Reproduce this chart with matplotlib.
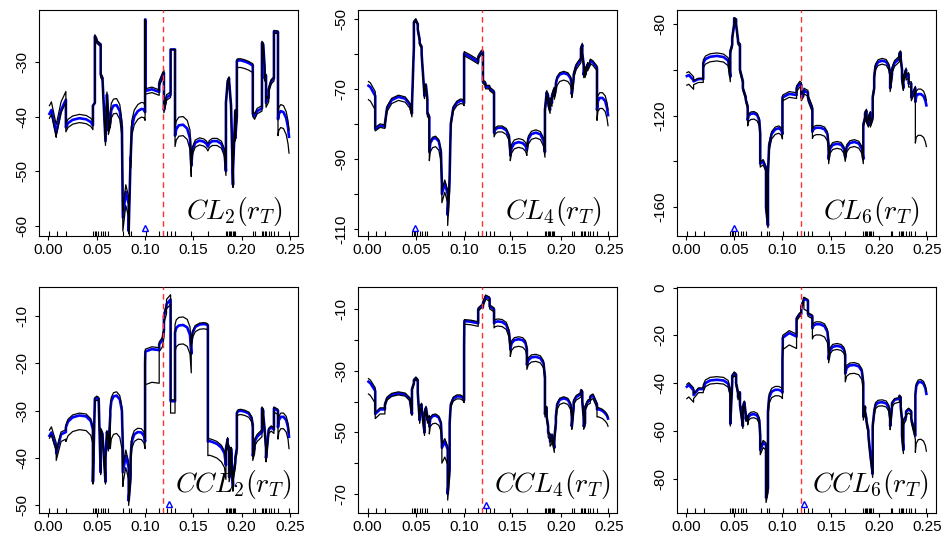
import numpy as np
import matplotlib.pyplot as plt

plt.rcParams['font.family'] = ['Liberation Sans', 'DejaVu Sans']
plt.rcParams['mathtext.fontset'] = 'cm'

# grid of r_T values, one list per piece between jump points
seg_r = [
    [0.001, 0.003, 0.008], [0.008, 0.013, 0.018],
    [0.018, 0.0202, 0.025, 0.032, 0.039, 0.0438, 0.046],
    [0.046, 0.048], [0.048, 0.050], [0.050, 0.052], [0.052, 0.054],
    [0.054, 0.056], [0.056, 0.059], [0.059, 0.0605, 0.062], [0.062, 0.064],
    [0.064, 0.065, 0.0673, 0.0705, 0.0738, 0.076, 0.077],
    [0.077, 0.080, 0.083], [0.083, 0.085],
    [0.085, 0.0862, 0.0888, 0.0925, 0.0962, 0.0988, 0.100], [0.100, 0.1003],
    [0.1003, 0.107, 0.1146], [0.1146, 0.118, 0.1195], [0.1195, 0.1222],
    [0.1222, 0.1264], [0.1264, 0.131],
    [0.131, 0.1323, 0.135, 0.1394, 0.1436, 0.1465, 0.1478],
    [0.1478, 0.1492, 0.152, 0.1564, 0.1607, 0.1636, 0.165],
    [0.165, 0.1665, 0.1697, 0.1744, 0.179, 0.1822, 0.1837],
    [0.1837, 0.1855], [0.1855, 0.187], [0.187, 0.189], [0.189, 0.191],
    [0.191, 0.1934], [0.1934, 0.195],
    [0.195, 0.1963, 0.199, 0.2032, 0.2074, 0.2102, 0.2115], [0.2115, 0.2134],
    [0.2134, 0.216, 0.221], [0.221, 0.2224], [0.2224, 0.2238],
    [0.2238, 0.2252], [0.2252, 0.228], [0.228, 0.2306], [0.2306, 0.2334],
    [0.2334, 0.2376], [0.2376, 0.2385, 0.2405, 0.2433, 0.2461, 0.248, 0.249],
]

rug_r = [0.001, 0.009, 0.0186, 0.046, 0.0477, 0.049, 0.051, 0.054, 0.0566,
         0.059, 0.062, 0.0773, 0.0836, 0.0856, 0.1008, 0.1146, 0.1222, 0.1264,
         0.131, 0.1478, 0.165, 0.1837, 0.1851, 0.1865, 0.1878, 0.1892, 0.1906,
         0.1920, 0.1934, 0.212, 0.2134, 0.221, 0.2224, 0.2238, 0.2251, 0.2279,
         0.2307, 0.2334, 0.2376, 0.249]
r_true = 0.119

# ---- CL2 ----
cl2_blue = [
    [-39.5, -38.8, -43.0], [-43.0, -38.8, -36.9],
    [-42.0, -41.2, -40.6, -40.3, -40.5, -41.0, -41.6],
    [-38.0, -37.5], [-25.3, -26.0], [-26.3, -26.5], [-26.6, -26.8],
    [-32.3, -33.0], [-33.5, -44.5], [-44.5, -36.0, -40.0], [-42.5, -41.0],
    [-40.5, -38.8, -38.0, -37.9, -39.0, -42.0, -58.5],
    [-58.5, -53.8, -56.0], [-61.0, -47.5],
    [-48.0, -42.0, -40.0, -39.0, -38.6, -38.7, -39.2], [-22.2, -22.2],
    [-35.3, -35.0, -35.5], [-34.0, -32.5, -32.0], [-38.8, -36.5],
    [-36.5, -36.0], [-27.7, -27.7],
    [-43.5, -42.3, -41.6, -41.5, -42.2, -44.0, -49.0],
    [-49.0, -46.0, -44.8, -44.4, -44.6, -45.0, -45.5],
    [-45.5, -44.9, -44.5, -44.5, -45.0, -46.5, -50.0],
    [-37.5, -33.5], [-33.5, -33.0], [-33.5, -38.0], [-38.0, -52.5],
    [-50.0, -39.0], [-44.0, -40.0],
    [-29.8, -29.7, -29.7, -29.9, -30.2, -30.5, -30.6], [-39.5, -40.0],
    [-40.0, -39.0, -38.5], [-26.5, -26.8], [-27.0, -31.0],
    [-33.0, -32.5], [-37.5, -36.5], [-35.0, -33.5], [-33.5, -33.0],
    [-24.4, -24.5], [-40.5, -39.5, -39.0, -39.2, -40.3, -42.0, -43.7],
]
cl2_up = [1.5, 1.5, 0.7, 0, 0.3, 0.2, 0.2, 0.3, 0.3, 0.5, 0.5, 1.2, 1.3, 0.5,
          1.2, 0, 0.4, 0.5, 0.5, 0.5, 0, 1.5, 0.5, 0.5, 0.3, 0.3, 0.3, 0.3,
          0.3, 0.3, 0.3, 0.5, 0.5, 0.3, 0.3, 0.3, 0.5, 0.3, 0.3, 0.2, 1.2]
cl2_dn = [0.8, 0.5, 0.8, 0, 0.3, 0.3, 0.3, 0.5, 0.5, 0.8, 0.8, 1.5, 2.5, 0.5,
          1.5, 0, 0.6, 0.5, 0.5, 0.5, 0, 2.0, 0.8, 0.8, 0.5, 0.5, 0.5, 0.5,
          0.5, 0.5, 1.3, 0.5, 0.5, 0.5, 0.5, 0.5, 0.8, 0.5, 0.5, 0.3, 3.0]

# ---- CL4 ----
cl4_blue = [
    [-69.1, -69.5, -72.0], [-81.5, -80.5, -80.8],
    [-80.0, -75.5, -73.2, -72.3, -72.8, -74.5, -77.0],
    [-75.0, -58.0], [-51.0, -50.3], [-50.5, -51.5], [-53.0, -56.0],
    [-57.0, -58.0], [-60.0, -72.0], [-70.0, -69.0, -73.0], [-77.0, -78.0],
    [-88.0, -85.5, -84.3, -84.0, -85.0, -88.0, -97.0],
    [-100.0, -97.0, -100.0], [-106.0, -96.0],
    [-95.0, -80.0, -75.5, -74.0, -73.4, -73.5, -74.0], [-60.0, -60.0],
    [-60.0, -61.0, -62.3], [-61.0, -59.5, -59.5], [-68.0, -68.5],
    [-69.5, -69.5], [-70.0, -71.0],
    [-82.5, -81.6, -81.1, -81.1, -81.8, -83.5, -88.0],
    [-89.0, -86.8, -85.6, -85.2, -85.5, -86.3, -87.5],
    [-87.0, -84.3, -82.9, -82.5, -83.0, -84.8, -88.0],
    [-76.0, -71.0], [-71.0, -72.0], [-74.0, -76.0], [-73.0, -74.0],
    [-72.0, -70.0], [-72.0, -70.0],
    [-68.5, -67.0, -65.9, -65.5, -65.9, -67.0, -69.0], [-71.5, -67.0],
    [-66.0, -63.5, -61.5], [-58.5, -57.5], [-60.0, -63.0],
    [-66.0, -64.0], [-66.0, -63.0], [-64.0, -62.5], [-62.0, -62.5],
    [-62.5, -64.0], [-76.0, -73.5, -72.6, -72.6, -73.5, -75.5, -77.5],
]
cl4_up = [1.2, 0.5, 0.5, 0, 0.3, 0.3, 0.3, 0.3, 0.5, 0.5, 0.5, 0.5, 1.0, 1.0,
          0.5, 0.5, 0.6, 0.5, 0.5, 0.5, 0.5, 0.5, 1.0, 0.8, 0.5, 0.5, 0.5, 0.5,
          0.5, 0.5, 0.5, 0.5, 0.5, 0.5, 0.5, 0.5, 0.5, 0.5, 0.5, 0.5, 1.5]
cl4_dn = [4.0, 0.5, 1.0, 0, 0.3, 0.3, 0.5, 0.5, 0.8, 0.8, 0.8, 2.5, 2.5, 3.0,
          0.8, 0.5, 0.6, 0.5, 0.5, 0.5, 0.5, 1.2, 1.5, 1.5, 1.0, 1.0, 1.0, 1.0,
          1.0, 1.0, 2.0, 1.0, 1.0, 0.8, 0.8, 0.8, 0.8, 0.8, 0.8, 0.8, 3.0]

# ---- CL6 ----
cl6_blue = [
    [-102.7, -102.3, -104.5], [-105.0, -104.0, -104.0],
    [-97.0, -95.3, -94.3, -93.9, -94.4, -96.0, -103.0],
    [-92.0, -89.0], [-86.0, -80.0], [-77.5, -78.0], [-80.0, -87.0],
    [-88.0, -89.0], [-100.0, -105.0], [-108.0, -110.0, -112.0], [-113.0, -116.0],
    [-122.0, -120.0, -119.2, -119.0, -119.8, -122.0, -128.0],
    [-141.0, -140.0, -143.0], [-160.0, -168.0],
    [-145.0, -133.0, -128.0, -126.0, -125.5, -126.3, -128.0], [-112.0, -112.0],
    [-112.0, -110.5, -111.0], [-108.0, -106.0, -106.5], [-112.0, -110.0],
    [-109.0, -110.0], [-112.0, -117.0],
    [-127.0, -125.8, -125.3, -125.3, -126.0, -128.0, -133.0],
    [-139.0, -134.5, -132.8, -132.3, -132.7, -134.5, -138.0],
    [-138.0, -133.8, -132.0, -131.5, -132.2, -134.5, -139.0],
    [-124.0, -121.0], [-119.0, -118.0], [-122.0, -124.0], [-121.0, -119.0],
    [-124.0, -121.0], [-112.0, -108.0],
    [-103.0, -98.5, -96.6, -96.0, -96.5, -98.5, -102.0], [-108.0, -102.0],
    [-100.0, -97.0, -95.0], [-93.0, -92.5], [-95.0, -100.0],
    [-104.0, -108.0], [-104.0, -100.0], [-103.0, -102.0], [-106.0, -106.0],
    [-112.0, -108.0], [-114.0, -111.5, -110.6, -110.6, -111.5, -113.5, -115.5],
]
cl6_up = [1.5, 0.3, 1.3, 0.5, 0.5, 0.3, 0.5, 0.5, 0.5, 0.5, 0.5, 0.8, 0.8, 0.5,
          1.0, 0.5, 1.0, 1.0, 1.0, 1.0, 1.0, 1.0, 1.0, 1.0, 0.8, 0.8, 0.8, 0.8,
          0.8, 0.8, 1.0, 1.0, 1.0, 0.8, 0.8, 0.8, 0.8, 0.8, 0.8, 0.8, 2.2]
cl6_dn = [4.0, 1.5, 2.2, 1.0, 1.0, 0.5, 1.0, 1.0, 1.0, 1.0, 1.0, 2.5, 1.5, 1.0,
          2.2, 1.0, 1.5, 1.5, 1.5, 1.5, 1.5, 3.0, 2.0, 2.0, 1.0, 1.0, 1.0, 1.0,
          1.0, 1.0, 1.5, 1.5, 1.5, 1.0, 1.0, 1.0, 1.5, 1.5, 1.5, 1.5, 18.0]

# ---- CCL2 ----
ccl2_blue = [
    [-35.3, -34.6, -38.0], [-39.0, -35.0, -34.5],
    [-33.5, -32.3, -31.4, -31.0, -31.2, -32.2, -34.0],
    [-45.0, -28.0], [-27.5, -27.3], [-27.2, -27.5], [-28.0, -43.0],
    [-34.0, -35.0], [-35.5, -45.0], [-40.0, -34.5, -36.0], [-38.0, -31.0],
    [-30.0, -28.0, -27.0, -26.8, -27.6, -30.0, -38.0],
    [-43.0, -39.5, -42.0], [-49.0, -44.0],
    [-40.0, -36.5, -35.0, -34.5, -34.6, -35.3, -36.5], [-20.0, -18.0],
    [-17.5, -17.0, -17.2], [-16.0, -15.0, -13.0], [-10.0, -8.0],
    [-7.5, -6.5], [-28.0, -28.0],
    [-13.5, -12.5, -12.0, -11.9, -12.4, -14.0, -18.0],
    [-16.0, -13.5, -12.3, -11.8, -11.7, -11.8, -12.0],
    [-36.5, -36.4, -36.6, -37.0, -37.8, -39.0, -41.5],
    [-38.0, -36.0], [-37.0, -38.0], [-44.0, -42.0], [-38.0, -46.0],
    [-44.0, -41.0], [-40.0, -38.0],
    [-30.5, -30.1, -30.0, -30.2, -30.6, -31.5, -33.0], [-39.5, -38.0],
    [-36.5, -35.5, -34.5], [-29.5, -30.0], [-31.0, -34.0],
    [-34.0, -38.0], [-40.0, -34.0], [-34.0, -33.5], [-33.5, -34.0],
    [-29.5, -30.0], [-33.5, -32.0, -31.3, -31.3, -32.0, -33.5, -35.5],
]
ccl2_up = [1.2, 0.5, 0.5, 0.3, 0.3, 0.3, 0.3, 0.3, 0.3, 0.3, 0.3, 0.8, 1.2, 0.5,
           0.8, 0.3, 0.5, 0.5, 0.5, 1.0, 0.3, 1.7, 0.3, 0.5, 0.3, 0.3, 0.3, 0.3,
           0.3, 0.3, 0.3, 0.5, 0.5, 0.3, 0.3, 0.3, 0.3, 0.3, 0.3, 0.3, 0.8]
ccl2_dn = [0.5, 1.5, 3.0, 0.5, 0.5, 0.5, 0.5, 0.5, 0.5, 0.5, 0.5, 8.0, 2.5, 1.0,
           1.5, 0.5, 7.0, 1.5, 1.5, 1.0, 2.5, 4.0, 1.0, 3.0, 1.0, 1.0, 1.0, 1.0,
           1.0, 1.0, 0.8, 1.0, 1.0, 0.8, 0.8, 0.8, 0.8, 0.8, 0.8, 0.8, 2.5]

# ---- CCL4 ----
ccl4_blue = [
    [-33.5, -34.0, -36.5], [-44.0, -42.5, -42.5],
    [-41.0, -39.0, -37.8, -37.3, -37.7, -39.2, -44.0],
    [-36.0, -34.0], [-33.0, -32.5], [-32.3, -33.0], [-37.0, -46.0],
    [-42.0, -41.0], [-42.0, -50.0], [-44.0, -42.0, -45.0], [-46.0, -45.0],
    [-48.0, -45.6, -44.7, -44.5, -45.2, -47.0, -53.0],
    [-55.0, -53.0, -55.5], [-70.0, -62.0],
    [-47.0, -41.0, -39.0, -38.3, -38.3, -38.8, -39.5], [-22.0, -15.0],
    [-13.8, -14.0, -14.5], [-10.0, -9.0, -9.2], [-8.0, -6.0],
    [-5.8, -6.5], [-9.0, -10.0],
    [-14.5, -14.1, -13.9, -14.1, -15.0, -17.5, -22.0],
    [-23.0, -21.0, -20.0, -19.7, -20.0, -21.0, -23.0],
    [-28.0, -26.5, -25.6, -25.4, -25.9, -27.5, -32.0],
    [-44.0, -42.0], [-45.0, -48.0], [-50.0, -51.0], [-53.0, -52.0],
    [-51.0, -55.0], [-52.0, -47.0],
    [-45.0, -41.0, -39.4, -38.9, -39.4, -41.0, -44.0], [-48.0, -42.0],
    [-40.0, -38.5, -37.5], [-36.5, -36.8], [-40.0, -45.0],
    [-48.0, -47.0], [-42.0, -40.0], [-40.0, -39.5], [-38.5, -38.0],
    [-38.0, -41.0], [-42.5, -42.4, -42.6, -43.0, -43.8, -44.6, -45.5],
]
ccl4_up = [1.0, 0.5, 0.5, 0.3, 0.3, 0.3, 0.5, 0.5, 0.5, 0.5, 0.5, 0.5, 1.0, 0.5,
           0.5, 0.5, 0.5, 0.5, 0.5, 0.5, 0.5, 0.8, 0.8, 0.8, 0.5, 0.5, 0.5, 0.5,
           0.5, 0.5, 0.5, 0.5, 0.5, 0.5, 0.5, 0.5, 0.5, 0.5, 0.5, 0.5, 0.5]
ccl4_dn = [4.0, 1.5, 0.5, 0.5, 0.5, 0.5, 1.0, 1.0, 1.0, 1.0, 1.0, 2.5, 5.0, 2.0,
           0.8, 0.5, 1.0, 0.5, 1.0, 0.8, 0.8, 1.5, 2.3, 1.5, 1.0, 1.0, 1.5, 1.5,
           1.5, 1.5, 1.5, 1.0, 1.0, 1.0, 1.0, 1.0, 1.0, 1.0, 1.0, 1.0, 2.5]

# ---- CCL6 ----
ccl6_blue = [
    [-41.5, -40.8, -43.0], [-45.0, -42.5, -42.5],
    [-42.0, -40.0, -38.9, -38.6, -38.9, -40.2, -44.0],
    [-57.0, -40.0], [-37.0, -36.0], [-35.8, -36.5], [-40.0, -44.0],
    [-46.0, -44.0], [-49.0, -58.0], [-50.0, -48.0, -53.0], [-55.0, -54.0],
    [-56.0, -54.0, -53.2, -53.0, -53.6, -55.5, -62.0],
    [-68.0, -65.0, -66.0], [-88.0, -84.0],
    [-52.0, -46.0, -43.6, -42.8, -42.8, -43.3, -44.0], [-30.0, -24.0],
    [-21.0, -19.0, -20.5], [-13.0, -11.0, -11.0], [-8.0, -5.0],
    [-4.5, -5.5], [-11.0, -12.0],
    [-17.0, -15.8, -15.3, -15.4, -16.2, -18.5, -23.0],
    [-30.0, -26.3, -24.8, -24.4, -24.8, -26.0, -28.0],
    [-36.0, -33.6, -32.6, -32.4, -33.0, -35.0, -40.0],
    [-54.0, -50.0], [-52.0, -55.0], [-56.0, -60.0], [-62.0, -70.0],
    [-70.0, -78.0], [-58.0, -52.0],
    [-52.0, -49.2, -48.2, -48.0, -48.5, -50.3, -55.0], [-58.0, -50.0],
    [-48.5, -47.0, -46.5], [-45.5, -46.0], [-50.0, -55.0],
    [-62.0, -68.0], [-56.0, -54.0], [-52.0, -51.0], [-51.0, -52.0],
    [-55.0, -62.0], [-45.0, -41.3, -39.7, -39.5, -40.3, -42.2, -44.5],
]
ccl6_up = [1.0, 0.5, 1.3, 0.5, 0.5, 0.5, 0.5, 0.5, 0.5, 0.5, 0.5, 1.0, 1.0, 0.5,
           1.4, 0.5, 1.0, 0.5, 0.5, 0.5, 0.5, 1.0, 1.0, 1.0, 0.5, 0.5, 0.5, 0.5,
           0.5, 0.5, 1.0, 0.5, 0.5, 0.5, 0.5, 0.5, 0.5, 0.5, 0.5, 0.5, 1.0]
ccl6_dn = [5.0, 1.5, 1.5, 1.0, 1.0, 1.0, 1.0, 1.0, 1.0, 1.0, 1.0, 1.5, 2.0, 2.0,
           2.5, 1.0, 5.0, 1.0, 1.0, 4.5, 1.0, 4.5, 1.5, 3.5, 1.5, 1.5, 1.5, 1.5,
           1.5, 1.5, 1.5, 1.5, 1.5, 1.5, 1.5, 1.5, 1.5, 1.5, 1.5, 1.5, 24.0]

# maximiser marks (x, y) and panel settings
panels = [
    dict(title=r'$CL_2(r_T)$', blue=cl2_blue, up=cl2_up, dn=cl2_dn,
         mark=(0.1003, -60.4), ylim=(-61.9, -20.4),
         ticks=[-60, -50, -40, -30], labels=[-60, -50, -40, -30]),
    dict(title=r'$CL_4(r_T)$', blue=cl4_blue, up=cl4_up, dn=cl4_dn,
         mark=(0.0494, -109.8), ylim=(-112.0, -47.4),
         ticks=[-110, -100, -90, -80, -70, -60, -50], labels=[-110, -90, -70, -50]),
    dict(title=r'$CL_6(r_T)$', blue=cl6_blue, up=cl6_up, dn=cl6_dn,
         mark=(0.050, -169.2), ylim=(-172.6, -73.7),
         ticks=[-160, -140, -120, -100, -80], labels=[-160, -120, -80]),
    dict(title=r'$CCL_2(r_T)$', blue=ccl2_blue, up=ccl2_up, dn=ccl2_dn,
         mark=(0.1248, -49.7), ylim=(-51.6, -3.8),
         ticks=[-50, -40, -30, -20, -10], labels=[-50, -40, -30, -20, -10]),
    dict(title=r'$CCL_4(r_T)$', blue=ccl4_blue, up=ccl4_up, dn=ccl4_dn,
         mark=(0.1226, -73.5), ylim=(-76.2, -2.6),
         ticks=[-70, -60, -50, -40, -30, -20, -10], labels=[-70, -50, -30, -10]),
    dict(title=r'$CCL_6(r_T)$', blue=ccl6_blue, up=ccl6_up, dn=ccl6_dn,
         mark=(0.1224, -90.6), ylim=(-94.4, 0.4),
         ticks=[-80, -60, -40, -20, 0], labels=[-80, -60, -40, -20, 0]),
]

fig = plt.figure(figsize=(9.43, 5.37), dpi=100)
lefts = [0.0417, 0.380, 0.7176]
bottoms = [0.5605, 0.0447]
r_all = np.concatenate([np.array(s) for s in seg_r])

for i, p in enumerate(panels):
    ax = fig.add_axes([lefts[i % 3], bottoms[i // 3], 0.2745, 0.4215])
    blue = np.concatenate([np.array(b) for b in p['blue']])
    hi = np.concatenate([np.array(b) + u for b, u in zip(p['blue'], p['up'])])
    lo = np.concatenate([np.array(b) - d for b, d in zip(p['blue'], p['dn'])])

    ax.plot(r_all, blue, color='#0000ff', lw=1.9, zorder=2)
    ax.plot(r_all, hi, color='black', lw=0.9, zorder=3)
    ax.plot(r_all, lo, color='black', lw=0.9, zorder=3)

    ax.axvline(r_true, color='#ff3030', ls=(0, (4, 3)), lw=1.0, zorder=4)
    ax.vlines(rug_r, 0, 0.022, transform=ax.get_xaxis_transform(),
              color='black', lw=0.8)
    ax.plot(*p['mark'], marker='^', ms=5, mfc='none', mec='#0000ff', mew=1.0)

    ax.set_xlim(-0.0095, 0.2585)
    ax.set_ylim(*p['ylim'])
    ax.set_xticks([0.0, 0.05, 0.10, 0.15, 0.20, 0.25])
    ax.set_xticklabels(['0.00', '0.05', '0.10', '0.15', '0.20', '0.25'])
    ax.set_yticks(p['ticks'])
    ax.set_yticklabels([str(t) if t in p['labels'] else '' for t in p['ticks']],
                       rotation=90, va='center')
    ax.tick_params(direction='out', length=3, width=0.8, labelsize=11, pad=2)
    ax.tick_params(axis='y', pad=4)
    for sp in ax.spines.values():
        sp.set_linewidth(0.8)

    ax.text(0.94 if i < 3 else 0.975, 0.107 if i < 3 else 0.124, p['title'],
            transform=ax.transAxes, ha='right', va='center', fontsize=20)

fig.savefig('out.png', dpi=100)
